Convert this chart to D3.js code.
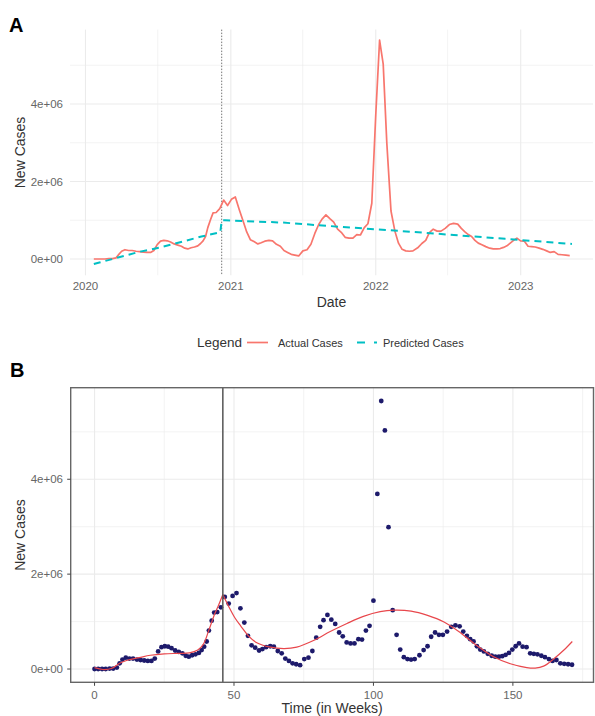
<!DOCTYPE html>
<html>
<head>
<meta charset="utf-8">
<script src="https://cdn.jsdelivr.net/npm/d3@7"></script>
<style>
  html, body { margin: 0; padding: 0; background: #fff; }
  svg { display: block; font-family: "Liberation Sans", Arial, sans-serif; }
</style>
</head>
<body>
<svg id="chart" width="595" height="716"></svg>
<script>
// ---------- DATA ----------
// Weekly new cases (week index since 2020-01-22)
const weeks = [0,1.3,2.7,4.0,5.4,6.7,8.0,9.0,10.0,11.2,12.5,13.8,15.2,16.5,17.8,19.1,20.4,21.6,22.8,24.0,25.2,26.4,27.6,28.9,30.2,31.5,32.7,33.8,35.0,36.2,37.4,38.4,39.3,40.2,41.0,42.0,42.9,44.0,45.3,46.7,48.1,49.5,50.9,52.3,53.7,55.0,56.3,57.6,59.0,60.2,61.5,63.0,64.3,65.7,67.1,68.4,69.7,71.0,72.3,73.7,75.2,76.7,78.1,79.5,80.9,82.1,83.5,84.9,86.3,87.7,89.0,90.4,91.8,93.2,94.6,95.9,97.3,98.6,100.0,101.4,102.8,104.1,105.4,106.9,108.3,109.6,110.9,112.2,113.5,114.8,116.5,118.0,119.4,120.7,122.1,123.5,124.9,126.4,127.9,129.4,130.9,132.2,133.5,134.7,135.9,137.1,138.3,139.6,141.0,142.4,143.7,145.0,146.2,147.4,148.6,149.8,151.0,152.2,153.5,154.9,156.2,157.5,158.8,160.2,161.5,162.9,164.2,165.6,167.0,168.4,169.8,171.2];
const cases = [0.0e6,0.0e6,0.0e6,0.0e6,0.01e6,0.01e6,0.03e6,0.12e6,0.2e6,0.24e6,0.22e6,0.22e6,0.2e6,0.19e6,0.18e6,0.17e6,0.17e6,0.22e6,0.37e6,0.46e6,0.48e6,0.47e6,0.44e6,0.39e6,0.36e6,0.33e6,0.28e6,0.26e6,0.29e6,0.31e6,0.34e6,0.4e6,0.47e6,0.58e6,0.81e6,1.02e6,1.19e6,1.2e6,1.3e6,1.52e6,1.38e6,1.54e6,1.6e6,1.28e6,0.98e6,0.7e6,0.5e6,0.45e6,0.39e6,0.42e6,0.46e6,0.48e6,0.47e6,0.38e6,0.33e6,0.22e6,0.17e6,0.12e6,0.1e6,0.08e6,0.21e6,0.24e6,0.38e6,0.66e6,0.89e6,1.03e6,1.14e6,1.04e6,0.95e6,0.77e6,0.69e6,0.56e6,0.54e6,0.54e6,0.63e6,0.62e6,0.81e6,0.91e6,1.44e6,3.69e6,5.65e6,5.03e6,2.99e6,1.24e6,0.72e6,0.41e6,0.25e6,0.21e6,0.2e6,0.21e6,0.29e6,0.4e6,0.48e6,0.68e6,0.77e6,0.72e6,0.72e6,0.79e6,0.89e6,0.92e6,0.9e6,0.79e6,0.7e6,0.63e6,0.58e6,0.48e6,0.41e6,0.37e6,0.32e6,0.28e6,0.26e6,0.26e6,0.27e6,0.3e6,0.34e6,0.41e6,0.48e6,0.54e6,0.47e6,0.46e6,0.33e6,0.32e6,0.31e6,0.28e6,0.25e6,0.21e6,0.17e6,0.19e6,0.12e6,0.11e6,0.1e6,0.09e6];

// Panel A: predicted cases (dashed), read at selected weeks
const predWeeks = [0,2,6.7,16.6,24,31.4,38.7,45.5,46,47.2,68,92.7,111,129.5,148,172];
const predCases = [-0.13e6,-0.09e6,0.0e6,0.19e6,0.3e6,0.44e6,0.58e6,0.69e6,1.0e6,1.0e6,0.94e6,0.81e6,0.72e6,0.62e6,0.52e6,0.39e6];

// Panel B: fitted curve (red), read at selected weeks
const fitWeeksPre = [0,3,6,9,12,16,20,25,30,34,37,39,41,43,44.5,46];
const fitCasesPre = [0.03e6,-0.01e6,0.01e6,0.12e6,0.19e6,0.24e6,0.29e6,0.32e6,0.33e6,0.34e6,0.4e6,0.52e6,0.82e6,1.15e6,1.35e6,1.57e6];
const fitWeeksPost = [46,48,50.3,52.5,55,58,63,68,72.5,78.5,84.5,90.5,96.4,102.4,107.5,113.5,119.4,125.3,131.3,137.2,143.1,149.1,155,158,161,164.8,168.3,171.3];
const fitCasesPost = [1.57e6,1.33e6,1.08e6,0.9e6,0.71e6,0.56e6,0.46e6,0.43e6,0.46e6,0.6e6,0.79e6,0.96e6,1.11e6,1.21e6,1.24e6,1.22e6,1.13e6,0.99e6,0.76e6,0.49e6,0.26e6,0.11e6,0.03e6,0.02e6,0.06e6,0.22e6,0.4e6,0.58e6];

const splitWeek = 46;
const startDate = "2020-01-22";
const yTicks = [0, 2e6, 4e6];
const yMinor = [1e6, 3e6, 5e6];
const yearTicks = ["2020-01-01","2021-01-01","2022-01-01","2023-01-01"];
const midYearTicks = ["2020-07-01","2021-07-01","2022-07-01"];
const weekTicks = [0, 50, 100, 150];
const weekMinor = [25, 75, 125, 175];

// ---------- HELPERS ----------
const svg = d3.select("#chart");
const parse = d3.utcParse("%Y-%m-%d");
const t0 = parse(startDate);
const weekToDate = w => new Date(t0.getTime() + w * 7 * 86400000);
const fmtY = v => v === 0 ? "0e+00" : d3.format(".0e")(v).replace("e+", "e+0");
const RED = "#F8766D", TEAL = "#00BFC4", GRID = "#ebebeb";

// ---------- PANEL A ----------
const ax = d3.scaleUtc().domain([parse("2019-11-23"), parse("2023-07-02")]).range([70, 593]);
const ay = d3.scaleLinear().domain([-0.42e6, 5.92e6]).range([275.3, 29.6]);
const gA = svg.append("g");
const [axL, axR] = ax.range(), [ayB, ayT] = ay.range();

gA.selectAll(".hminor").data(yMinor).join("line")
  .attr("x1", axL).attr("x2", axR).attr("y1", d => ay(d)).attr("y2", d => ay(d))
  .attr("stroke", GRID).attr("stroke-width", 0.6);
gA.selectAll(".vminor").data(midYearTicks).join("line")
  .attr("x1", d => ax(parse(d))).attr("x2", d => ax(parse(d))).attr("y1", ayT).attr("y2", ayB)
  .attr("stroke", GRID).attr("stroke-width", 0.6);
gA.selectAll(".hmajor").data(yTicks).join("line")
  .attr("x1", axL).attr("x2", axR).attr("y1", d => ay(d)).attr("y2", d => ay(d))
  .attr("stroke", GRID).attr("stroke-width", 1.1);
gA.selectAll(".vmajor").data(yearTicks).join("line")
  .attr("x1", d => ax(parse(d))).attr("x2", d => ax(parse(d))).attr("y1", ayT).attr("y2", ayB)
  .attr("stroke", GRID).attr("stroke-width", 1.1);

// y tick labels
gA.selectAll(".ylab").data(yTicks).join("text")
  .attr("x", 63).attr("y", d => ay(d)).attr("dy", "0.35em").attr("text-anchor", "end")
  .attr("font-size", 11.5).attr("fill", "#666").text(fmtY);
// x tick labels
gA.selectAll(".xlab").data(yearTicks).join("text")
  .attr("x", d => ax(parse(d))).attr("y", 286).attr("dy", "0.35em").attr("text-anchor", "middle")
  .attr("font-size", 11.5).attr("fill", "#666").text(d => d.slice(0, 4));

// split line (dotted)
gA.append("line")
  .attr("x1", ax(weekToDate(splitWeek))).attr("x2", ax(weekToDate(splitWeek)))
  .attr("y1", ayT).attr("y2", ayB)
  .attr("stroke", "#777").attr("stroke-width", 1).attr("stroke-dasharray", "1.5,1.5");

// actual line
const actual = weeks.map((w, i) => [weekToDate(w), cases[i]]);
gA.append("path").datum(actual)
  .attr("fill", "none").attr("stroke", RED).attr("stroke-width", 1.7).attr("stroke-linejoin", "round")
  .attr("d", d3.line().x(d => ax(d[0])).y(d => ay(d[1])));

// predicted line
const pred = predWeeks.map((w, i) => [weekToDate(w), predCases[i]]);
gA.append("path").datum(pred)
  .attr("fill", "none").attr("stroke", TEAL).attr("stroke-width", 2).attr("stroke-dasharray", "7,5")
  .attr("d", d3.line().x(d => ax(d[0])).y(d => ay(d[1])));

// axis titles
gA.append("text").attr("x", (axL + axR) / 2).attr("y", 307).attr("text-anchor", "middle")
  .attr("font-size", 14).attr("fill", "#333").text("Date");
gA.append("text").attr("transform", `translate(25,${(ayT + ayB) / 2}) rotate(-90)`)
  .attr("text-anchor", "middle").attr("font-size", 14).attr("fill", "#333").text("New Cases");

// legend
const lg = svg.append("g");
lg.append("text").attr("x", 197).attr("y", 347).attr("font-size", 13.5).attr("fill", "#333").text("Legend");
lg.append("line").attr("x1", 247).attr("x2", 268).attr("y1", 342.5).attr("y2", 342.5)
  .attr("stroke", RED).attr("stroke-width", 1.7);
lg.append("text").attr("x", 278).attr("y", 346.5).attr("font-size", 11).attr("fill", "#333").text("Actual Cases");
lg.append("line").attr("x1", 357).attr("x2", 377).attr("y1", 342.5).attr("y2", 342.5)
  .attr("stroke", TEAL).attr("stroke-width", 2).attr("stroke-dasharray", "8,9");
lg.append("text").attr("x", 383).attr("y", 346.5).attr("font-size", 11).attr("fill", "#333").text("Predicted Cases");

// panel letter
svg.append("text").attr("x", 9).attr("y", 32).attr("font-size", 20).attr("font-weight", "bold").attr("fill", "#000").text("A");

// ---------- PANEL B ----------
const bx = d3.scaleLinear().domain([-8.55, 179.55]).range([70.7, 595.3]);
const by = d3.scaleLinear().domain([-0.28e6, 5.93e6]).range([682.3, 387.7]);
const gB = svg.append("g");
const bL = 70.7, bR = 593.5, [bB, bT] = by.range();

gB.selectAll(".hminor").data(yMinor).join("line")
  .attr("x1", bL).attr("x2", bR).attr("y1", d => by(d)).attr("y2", d => by(d))
  .attr("stroke", GRID).attr("stroke-width", 0.6);
gB.selectAll(".vminor").data(weekMinor).join("line")
  .attr("x1", d => bx(d)).attr("x2", d => bx(d)).attr("y1", bT).attr("y2", bB)
  .attr("stroke", GRID).attr("stroke-width", 0.6);
gB.selectAll(".hmajor").data(yTicks).join("line")
  .attr("x1", bL).attr("x2", bR).attr("y1", d => by(d)).attr("y2", d => by(d))
  .attr("stroke", GRID).attr("stroke-width", 1.1);
gB.selectAll(".vmajor").data(weekTicks).join("line")
  .attr("x1", d => bx(d)).attr("x2", d => bx(d)).attr("y1", bT).attr("y2", bB)
  .attr("stroke", GRID).attr("stroke-width", 1.1);

// points
gB.selectAll("circle").data(weeks.map((w, i) => [w, cases[i]])).join("circle")
  .attr("cx", d => bx(d[0])).attr("cy", d => by(d[1])).attr("r", 2.4).attr("fill", "#1d1a6b");

// fitted curves
const fitLine = d3.line().x(d => bx(d[0])).y(d => by(d[1])).curve(d3.curveCatmullRom);
gB.append("path").datum(fitWeeksPre.map((w, i) => [w, fitCasesPre[i]]))
  .attr("fill", "none").attr("stroke", "#e8474c").attr("stroke-width", 1.2).attr("d", fitLine);
gB.append("path").datum(fitWeeksPost.map((w, i) => [w, fitCasesPost[i]]))
  .attr("fill", "none").attr("stroke", "#e8474c").attr("stroke-width", 1.2).attr("d", fitLine);

// split line
gB.append("line").attr("x1", bx(splitWeek)).attr("x2", bx(splitWeek)).attr("y1", bT).attr("y2", bB)
  .attr("stroke", "#555").attr("stroke-width", 1.5);

// border
gB.append("rect").attr("x", bL).attr("y", bT).attr("width", bR - bL).attr("height", bB - bT)
  .attr("fill", "none").attr("stroke", "#666").attr("stroke-width", 1.4);

// ticks
gB.selectAll(".yt").data(yTicks).join("line")
  .attr("x1", bL - 3.5).attr("x2", bL).attr("y1", d => by(d)).attr("y2", d => by(d))
  .attr("stroke", "#444").attr("stroke-width", 1);
gB.selectAll(".xt").data(weekTicks).join("line")
  .attr("x1", d => bx(d)).attr("x2", d => bx(d)).attr("y1", bB).attr("y2", bB + 3.5)
  .attr("stroke", "#444").attr("stroke-width", 1);
gB.selectAll(".ylab").data(yTicks).join("text")
  .attr("x", 63).attr("y", d => by(d)).attr("dy", "0.35em").attr("text-anchor", "end")
  .attr("font-size", 11.5).attr("fill", "#666").text(fmtY);
gB.selectAll(".xlab").data(weekTicks).join("text")
  .attr("x", d => bx(d)).attr("y", 695).attr("dy", "0.35em").attr("text-anchor", "middle")
  .attr("font-size", 11.5).attr("fill", "#666").text(d => d);

gB.append("text").attr("x", (bL + bR) / 2).attr("y", 713).attr("text-anchor", "middle")
  .attr("font-size", 14).attr("fill", "#333").text("Time (in Weeks)");
gB.append("text").attr("transform", `translate(25,${(bT + bB) / 2}) rotate(-90)`)
  .attr("text-anchor", "middle").attr("font-size", 14).attr("fill", "#333").text("New Cases");

svg.append("text").attr("x", 10).attr("y", 377).attr("font-size", 20).attr("font-weight", "bold").attr("fill", "#000").text("B");
</script>
</body>
</html>
